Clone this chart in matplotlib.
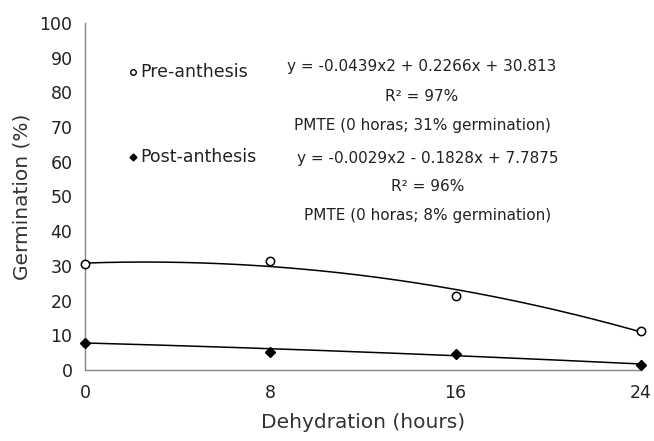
import numpy as np
import matplotlib
matplotlib.use("Agg")
import matplotlib.pyplot as plt

# Data
hours = [0, 8, 16, 24]
pre_anthesis = [30.4, 31.5, 21.3, 11.3]
post_anthesis = [7.9, 5.3, 4.5, 1.5]
# trendline coefficients (as printed on the chart)
pre_coef = [-0.0439, 0.2266, 30.813]
post_coef = [-0.0029, -0.1828, 7.7875]
x_ticks = [0, 8, 16, 24]
y_ticks = list(range(0, 101, 10))

plt.rcParams['font.family'] = ['DejaVu Sans']
fig = plt.figure(figsize=(6.54, 4.41), dpi=100)
ax = fig.add_axes([0.130, 0.161, 0.850, 0.787])

xs = np.linspace(0, 24, 200)
ax.plot(xs, np.polyval(pre_coef, xs), color='black', lw=1.1, zorder=2)
ax.plot(xs, np.polyval(post_coef, xs), color='black', lw=1.1, zorder=2)
ax.plot(hours, pre_anthesis, linestyle='none', marker='o', ms=6, mfc='white',
        mec='black', mew=1.1, zorder=3, clip_on=False)
ax.plot(hours, post_anthesis, linestyle='none', marker='D', ms=5.5, mfc='black',
        mec='black', zorder=3, clip_on=False)

ax.set_xlim(0, 24)
ax.set_ylim(0, 100)
ax.set_xticks(x_ticks)
ax.set_yticks(y_ticks)
ax.tick_params(length=0, labelsize=12.5, colors='#222222')
ax.tick_params(axis='x', pad=10)
ax.tick_params(axis='y', pad=9)
for s in ['top', 'right']:
    ax.spines[s].set_visible(False)
for s in ['left', 'bottom']:
    ax.spines[s].set_color('#888888')
    ax.spines[s].set_linewidth(1.0)

ax.set_ylabel('Germination (%)', fontsize=14.5, color='#333333', labelpad=6)
ax.set_xlabel('Dehydration (hours)', fontsize=14.5, color='#333333', labelpad=8)

# Annotations
tc = '#222222'
fs = 11
fl = 12.5
ax.plot([2.05], [85.8], marker='o', ms=4, mfc='white', mec='black', mew=1, clip_on=False)
ax.text(2.4, 85.8, 'Pre-anthesis', fontsize=fl, color=tc, va='center', ha='left')
ax.text(14.55, 87.5, 'y = -0.0439x2 + 0.2266x + 30.813', fontsize=fs, color=tc, va='center', ha='center')
ax.text(14.55, 78.8, 'R² = 97%', fontsize=fs, color=tc, va='center', ha='center')
ax.text(14.55, 70.5, 'PMTE (0 horas; 31% germination)', fontsize=fs, color=tc, va='center', ha='center')

ax.plot([2.05], [61.3], marker='D', ms=3.5, mfc='black', mec='black', clip_on=False)
ax.text(2.4, 61.3, 'Post-anthesis', fontsize=fl, color=tc, va='center', ha='left')
ax.text(14.8, 61.0, 'y = -0.0029x2 - 0.1828x + 7.7875', fontsize=fs, color=tc, va='center', ha='center')
ax.text(14.8, 52.8, 'R² = 96%', fontsize=fs, color=tc, va='center', ha='center')
ax.text(14.8, 44.6, 'PMTE (0 horas; 8% germination)', fontsize=fs, color=tc, va='center', ha='center')

fig.savefig('out.png', dpi=100)
